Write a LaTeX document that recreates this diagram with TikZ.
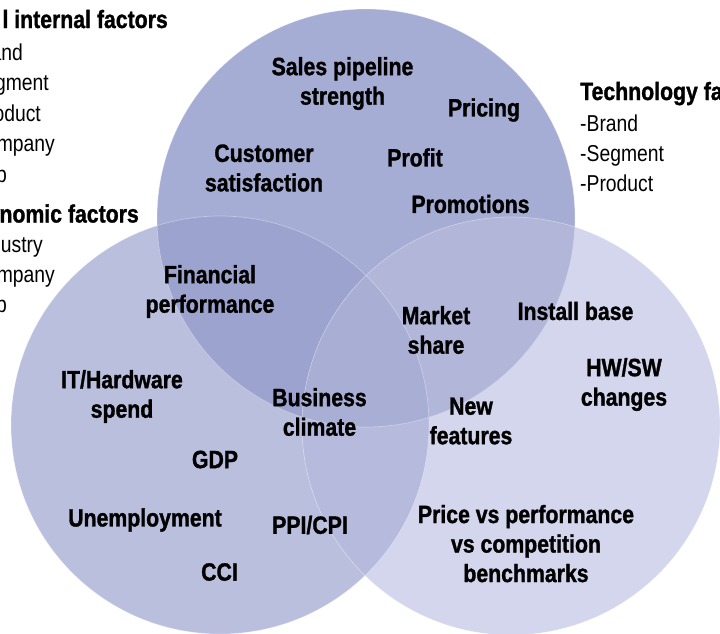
\documentclass[tikz,border=0pt]{standalone}
\usepackage{fontspec}
\setmainfont{Liberation Sans}
\newfontfamily\labfont{Liberation Sans}[FakeStretch=0.85,BoldFeatures={FakeBold=1.2}]
\newfontfamily\regfont{Liberation Sans}[FakeStretch=0.84]
\definecolor{cT}{RGB}{165,173,212}
\definecolor{cL}{RGB}{187,191,222}
\definecolor{cR}{RGB}{211,214,236}
\definecolor{cTL}{RGB}{156,163,206}
\definecolor{cTR}{RGB}{178,183,218}
\definecolor{cLR}{RGB}{182,186,221}
\definecolor{cTLR}{RGB}{168,174,212}
\tikzset{
  lbl/.style={font=\labfont\bfseries\fontsize{25}{29.5}\selectfont, align=center, inner sep=0pt, text=black},
  sidehead/.style={font=\labfont\bfseries\fontsize{25}{29.5}\selectfont, inner sep=0pt, text=black},
  sideitem/.style={font=\regfont\fontsize{23}{30}\selectfont, inner sep=0pt, text=black},
  rim/.style={draw=white, draw opacity=0.35, line width=0.7pt}
}
\begin{document}
\begin{tikzpicture}[x=1pt,y=-1pt]
\useasboundingbox (0,0) rectangle (720,633);
\def\rad{209pt}
\coordinate (T) at (366,218);
\coordinate (L) at (220,425);
\coordinate (R) at (511,426);
% base fills
\fill[cL] (L) circle[radius=\rad];
\fill[cR] (R) circle[radius=\rad];
\fill[cT] (T) circle[radius=\rad];
% overlaps
\begin{scope}\clip (L) circle[radius=\rad]; \fill[cTL] (T) circle[radius=\rad];\end{scope}
\begin{scope}\clip (R) circle[radius=\rad]; \fill[cTR] (T) circle[radius=\rad];\end{scope}
\begin{scope}\clip (L) circle[radius=\rad]; \fill[cLR] (R) circle[radius=\rad];\end{scope}
\begin{scope}\clip (L) circle[radius=\rad]; \clip (R) circle[radius=\rad]; \fill[cTLR] (T) circle[radius=\rad];\end{scope}
% rims
\draw[rim] (L) circle[radius=\rad];
\draw[rim] (R) circle[radius=\rad];
\draw[rim] (T) circle[radius=\rad];
% labels
\node[lbl] (sales) at (342.5,83.5) {Sales pipeline\\strength};
\node[lbl] (pricing) at (484,110) {Pricing};
\node[lbl] (cust) at (264,168) {Customer\\satisfaction};
\node[lbl] (profit) at (415,157.5) {Profit};
\node[lbl] (promo) at (470.5,204) {Promotions};
\node[lbl] (fin) at (210,291.5) {Financial\\performance};
\node[lbl] (mkt) at (436,330) {Market\\share};
\node[lbl] (inst) at (575.5,311) {Install base};
\node[lbl] (hwsw) at (624,384.5) {HW/SW\\changes};
\node[lbl] (it) at (122,396.5) {IT/Hardware\\spend};
\node[lbl] (bus) at (319.5,412) {Business\\climate};
\node[lbl] (new) at (471,421) {New\\features};
\node[lbl] (gdp) at (215,459.5) {GDP};
\node[lbl] (unemp) at (145,520) {Unemployment};
\node[lbl] (ppi) at (310,525) {PPI/CPI};
\node[lbl] (cci) at (219.5,572) {CCI};
\node[lbl] (price) at (526,543.6) {Price vs performance\\vs competition\\benchmarks};
% left side lists (cut by the picture edge, as in the reference)
\node[sidehead, anchor=base east] (h1) at (168,28) {l internal factors};
\node[sideitem, anchor=base east] (a1) at (23,60) {and};
\node[sideitem, anchor=base east] (a2) at (49,90.5) {gment};
\node[sideitem, anchor=base east] (a3) at (41,121) {oduct};
\node[sideitem, anchor=base east] (a4) at (55,151.5) {mpany};
\node[sideitem, anchor=base east] (a5) at (7,182) {p};
\node[sidehead, anchor=base east] (h2) at (139,222.5) {nomic factors};
\node[sideitem, anchor=base east] (b1) at (43,252) {ustry};
\node[sideitem, anchor=base east] (b2) at (55,282) {mpany};
\node[sideitem, anchor=base east] (b3) at (7,312) {p};
% right side list
\node[sidehead, anchor=base west] (h3) at (580,100) {Technology fa};
\node[sideitem, anchor=base west] (c1) at (580,131.5) {-Brand};
\node[sideitem, anchor=base west] (c2) at (580,161.5) {-Segment};
\node[sideitem, anchor=base west] (c3) at (580,191.5) {-Product};
\end{tikzpicture}
\end{document}
